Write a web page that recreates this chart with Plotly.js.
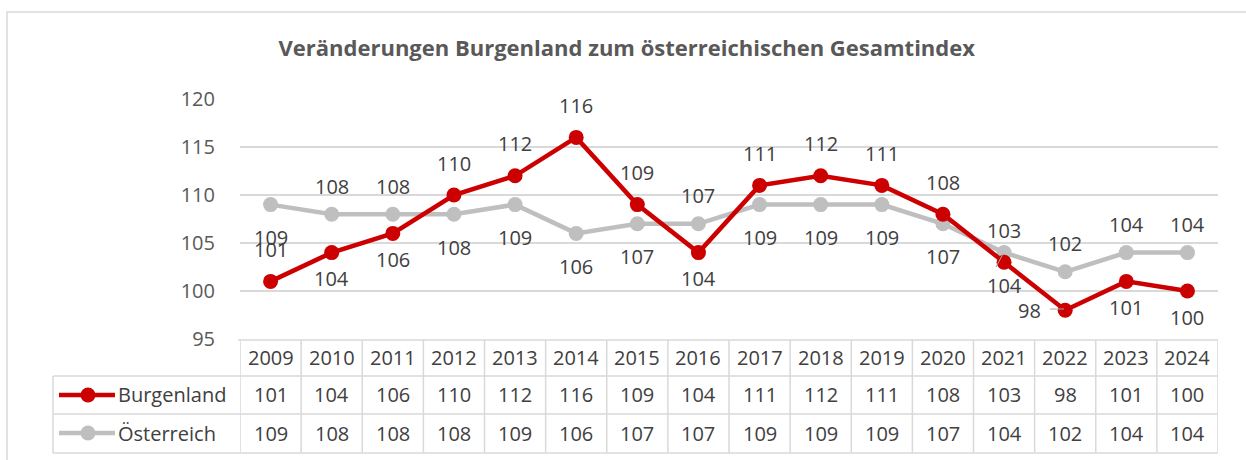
<!DOCTYPE html>
<html><head><meta charset="utf-8">
<script src="https://cdn.plot.ly/plotly-3.0.1.min.js"></script>
<style>html,body{margin:0;padding:0;background:#fff}#c{width:1246px;height:460px}</style>
</head><body><div id="c"></div>
<script>
const years = ["2009","2010","2011","2012","2013","2014","2015","2016","2017","2018","2019","2020","2021","2022","2023","2024"];
const burgenland = [101,104,106,110,112,116,109,104,111,112,111,108,103,98,101,100];
const oesterreich = [109,108,108,108,109,106,107,107,109,109,109,107,104,102,104,104];
const seriesNames = ["Burgenland","Österreich"];
const chartTitle = "Veränderungen Burgenland zum österreichischen Gesamtindex";

// label placement (style only)
const redPos  = ["a","b","b","a","a","a","a","b","a","a","a","a","a","l","b","b"];
const grayPos = ["b","a","a","b","b","b","b","a","b","b","b","b","b","a","a","a"];

const RED = "#cc0000", GRAY = "#bfbfbf", TXT = "#404040", AX = "#595959", GRID = "#d9d9d9";
const FONT = "Open Sans, Noto Sans, sans-serif";
const FS = 20;
const L = 240, R = 1218, T = 99, B = 339;
const px = x => (x - L) / (R - L);
const py = y => (B - y) / (B - T);
const idx = years.map((_, i) => i);

const traces = [
  {x: idx, y: oesterreich, name: seriesNames[1], type: "scatter", mode: "lines+markers",
   line: {color: GRAY, width: 4.5}, marker: {color: GRAY, size: 15}, hoverinfo: "skip"},
  {x: idx, y: burgenland, name: seriesNames[0], type: "scatter", mode: "lines+markers",
   line: {color: RED, width: 4.5}, marker: {color: RED, size: 15}, hoverinfo: "skip"}
];

const ann = [];
function lab(vals, pos, up, down) {
  vals.forEach((v, i) => {
    const p = pos[i];
    ann.push({x: i, y: v, xref: "x", yref: "y", text: String(v), showarrow: false,
      font: {family: FONT, size: FS, color: TXT},
      yshift: p === "a" ? up : (p === "b" ? -down : 0),
      xshift: p === "l" ? -36 : 0});
  });
}
lab(burgenland, redPos, 32, 26);
lab(oesterreich, grayPos, 28, 33);

// table text
const rowY = [357, 394, 433];
years.forEach((yr, i) => {
  ann.push({x: i, y: py(rowY[0]), xref: "x", yref: "paper", text: yr, showarrow: false, yanchor: "middle",
    font: {family: FONT, size: FS, color: TXT}});
  ann.push({x: i, y: py(rowY[1]), xref: "x", yref: "paper", text: String(burgenland[i]), showarrow: false, yanchor: "middle",
    font: {family: FONT, size: FS, color: TXT}});
  ann.push({x: i, y: py(rowY[2]), xref: "x", yref: "paper", text: String(oesterreich[i]), showarrow: false, yanchor: "middle",
    font: {family: FONT, size: FS, color: TXT}});
});
seriesNames.forEach((n, k) => {
  ann.push({x: px(116), y: py(rowY[k + 1]), xref: "paper", yref: "paper", text: n, showarrow: false,
    xanchor: "left", yanchor: "middle", font: {family: FONT, size: FS, color: TXT}});
});

const shapes = [];
const lineStyle = {color: GRID, width: 1.5};
// outer border
shapes.push({type: "rect", xref: "paper", yref: "paper", x0: px(7), x1: px(1262), y0: py(475), y1: py(12), line: {color: GRID, width: 1.5}});
// table horizontals
shapes.push({type: "line", xref: "paper", yref: "paper", x0: px(238), x1: px(R), y0: py(340), y1: py(340), line: lineStyle});
[376, 414, 453].forEach(y => shapes.push({type: "line", xref: "paper", yref: "paper", x0: px(53), x1: px(R), y0: py(y), y1: py(y), line: lineStyle}));
// verticals
shapes.push({type: "line", xref: "paper", yref: "paper", x0: px(53), x1: px(53), y0: py(376), y1: py(453), line: lineStyle});
for (let i = 0; i <= years.length; i++) {
  shapes.push({type: "line", xref: "x", yref: "paper", x0: i - 0.5, x1: i - 0.5, y0: py(340), y1: py(453), line: lineStyle});
}
// legend keys
[[RED, 395], [GRAY, 433]].forEach(([c, y]) => {
  shapes.push({type: "line", xref: "paper", yref: "paper", x0: px(59), x1: px(115), y0: py(y), y1: py(y), line: {color: c, width: 4.5}});
  shapes.push({type: "circle", xref: "paper", yref: "paper", x0: px(80.5), x1: px(95.5), y0: py(y + 7.5), y1: py(y - 7.5), fillcolor: c, line: {color: c, width: 0}});
});
// leader lines
shapes.push({type: "line", xref: "paper", yref: "paper", x0: px(1050), x1: px(1064), y0: py(309), y1: py(309), line: {color: "#a6a6a6", width: 1}});
shapes.push({type: "line", xref: "paper", yref: "paper", x0: px(996), x1: px(1003), y0: py(267), y1: py(254), line: {color: "#a6a6a6", width: 1}});

const layout = {
  width: 1246, height: 460,
  margin: {l: L, r: 1246 - R, t: T, b: 460 - B},
  paper_bgcolor: "#fff", plot_bgcolor: "#fff",
  showlegend: false,
  title: {text: "<b>" + chartTitle + "</b>", x: 0.503, xanchor: "center", y: 1 - 48 / 460, yanchor: "middle",
    font: {family: FONT, size: 22, color: AX}},
  xaxis: {range: [-0.5, 15.5], showticklabels: false, showgrid: false, zeroline: false, showline: false, fixedrange: true},
  yaxis: {range: [95, 120], tickvals: [95, 100, 105, 110, 115, 120], showgrid: true, gridcolor: GRID, gridwidth: 1.5,
    zeroline: false, showline: false, ticks: "", ticklabelstandoff: 24,
    tickfont: {family: FONT, size: FS, color: AX}, fixedrange: true},
  annotations: ann,
  shapes: shapes
};
Plotly.newPlot("c", traces, layout, {displayModeBar: false, staticPlot: true});
</script></body></html>
